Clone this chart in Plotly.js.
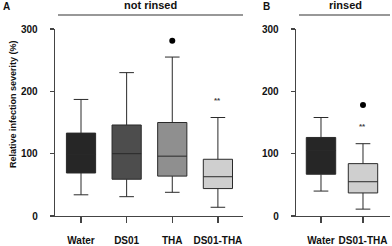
<!DOCTYPE html>
<html>
<head>
<meta charset="utf-8">
<script src="https://cdn.plot.ly/plotly-3.0.1.min.js"></script>
<style>html,body{margin:0;padding:0;background:#fff;}#chart{width:392px;height:246px;}</style>
</head>
<body>
<div id="chart"></div>
<script>
// Panel A: not rinsed
const catsA = ['Water', 'DS01', 'THA', 'DS01-THA'];
const lowA  = [34, 31, 38, 14];
const q1A   = [69, 59, 64, 44];
const medA  = [99, 100, 96, 63];
const q3A   = [133, 146, 150, 91];
const highA = [187, 230, 255, 158];
const outCatA = ['THA'];
const outValA = [281];
const sigCatA = ['DS01-THA'];
const sigValA = [185];
const sigTxtA = ['**'];

// Panel B: rinsed
const catsB = ['Water', 'DS01-THA'];
const lowB  = [40, 11];
const q1B   = [67, 37];
const medB  = [105, 55];
const q3B   = [126, 84];
const highB = [158, 116];
const outCatB = ['DS01-THA'];
const outValB = [178];
const sigCatB = ['DS01-THA'];
const sigValB = [143];
const sigTxtB = ['**'];

const yTicks = [0, 100, 200, 300];
const fills = {'Water': '#262626', 'DS01': '#4d4d4d', 'THA': '#8f8f8f', 'DS01-THA': '#cfcfcf'};

const W = 392, H = 246;
const px = v => v / W;
const py = v => (H - v) / H;

const traces = [];
function addBoxes(cats, lo, q1, med, q3, hi, xa, ya, bw) {
  cats.forEach((c, i) => {
    traces.push({
      type: 'box', x: [c], lowerfence: [lo[i]], q1: [q1[i]], median: [med[i]], q3: [q3[i]], upperfence: [hi[i]],
      xaxis: xa, yaxis: ya, width: bw, whiskerwidth: 0.5, boxpoints: false,
      fillcolor: fills[c], line: {color: '#2a2a2a', width: 1}, hoverinfo: 'skip', showlegend: false
    });
  });
}
addBoxes(catsA, lowA, q1A, medA, q3A, highA, 'x', 'y', 0.64);
addBoxes(catsB, lowB, q1B, medB, q3B, highB, 'x2', 'y2', 0.7);

traces.push({type: 'scatter', mode: 'markers', x: outCatA, y: outValA, xaxis: 'x', yaxis: 'y',
  marker: {color: '#000', size: 6}, hoverinfo: 'skip', showlegend: false});
traces.push({type: 'scatter', mode: 'markers', x: outCatB, y: outValB, xaxis: 'x2', yaxis: 'y2',
  marker: {color: '#000', size: 6}, hoverinfo: 'skip', showlegend: false});

const bold = (s, c) => ({family: 'Liberation Sans, Arial, sans-serif', size: s, color: c || '#111', weight: 'bold'});

const xCommon = {
  type: 'category', showline: true, linecolor: '#444', linewidth: 1.3, ticks: 'outside', ticklen: 6,
  tickcolor: '#444', tickwidth: 1.3, showgrid: false, zeroline: false, tickfont: bold(10), ticklabelstandoff: 9, fixedrange: true
};
const yCommon = {
  range: [0, 300], tickmode: 'array', tickvals: yTicks, ticktext: yTicks.map(String),
  showline: true, linecolor: '#444', linewidth: 1.3, ticks: 'outside', ticklen: 4, tickcolor: '#444', tickwidth: 1.3,
  showgrid: false, zeroline: false, tickfont: bold(10), ticklabelstandoff: 10, fixedrange: true
};

const layout = {
  width: W, height: H, margin: {l: 0, r: 0, t: 0, b: 0},
  paper_bgcolor: '#fff', plot_bgcolor: 'rgba(0,0,0,0)', showlegend: false,
  xaxis: Object.assign({}, xCommon, {domain: [px(55), px(243)], range: [-0.57, 3.55], anchor: 'y',
    categoryorder: 'array', categoryarray: catsA}),
  yaxis: Object.assign({}, yCommon, {domain: [py(216), py(29)], anchor: 'x'}),
  xaxis2: Object.assign({}, xCommon, {domain: [px(296), px(390)], range: [-0.595, 1.643], anchor: 'y2',
    categoryorder: 'array', categoryarray: catsB}),
  yaxis2: Object.assign({}, yCommon, {domain: [py(216), py(29)], anchor: 'x2'}),
  shapes: [
    {type: 'line', xref: 'paper', yref: 'paper', x0: px(58), x1: px(243), y0: py(15), y1: py(15), line: {color: '#333', width: 1.2}},
    {type: 'line', xref: 'paper', yref: 'paper', x0: px(299), x1: px(390), y0: py(15), y1: py(15), line: {color: '#333', width: 1.2}}
  ],
  annotations: [
    {text: 'A', xref: 'paper', yref: 'paper', x: px(6), y: py(6), xanchor: 'center', yanchor: 'middle', showarrow: false, font: bold(10)},
    {text: 'B', xref: 'paper', yref: 'paper', x: px(266), y: py(6), xanchor: 'center', yanchor: 'middle', showarrow: false, font: bold(10)},
    {text: 'not rinsed', xref: 'paper', yref: 'paper', x: px(150.5), y: py(5), xanchor: 'center', yanchor: 'middle', showarrow: false, font: bold(11)},
    {text: 'rinsed', xref: 'paper', yref: 'paper', x: px(345), y: py(5), xanchor: 'center', yanchor: 'middle', showarrow: false, font: bold(11)},
    {text: 'Relative infection severity (%)', xref: 'paper', yref: 'paper', x: px(13), y: py(104), textangle: -90,
      xanchor: 'center', yanchor: 'middle', showarrow: false, font: bold(9)}
  ]
};
sigCatA.forEach((c, i) => layout.annotations.push({text: sigTxtA[i], xref: 'x', yref: 'y', x: c, y: sigValA[i],
  showarrow: false, font: bold(8, '#444'), xanchor: 'center', yanchor: 'middle'}));
sigCatB.forEach((c, i) => layout.annotations.push({text: sigTxtB[i], xref: 'x2', yref: 'y2', x: c, y: sigValB[i],
  showarrow: false, font: bold(8, '#444'), xanchor: 'center', yanchor: 'middle'}));

Plotly.newPlot('chart', traces, layout, {staticPlot: true, displayModeBar: false});
</script>
</body>
</html>
